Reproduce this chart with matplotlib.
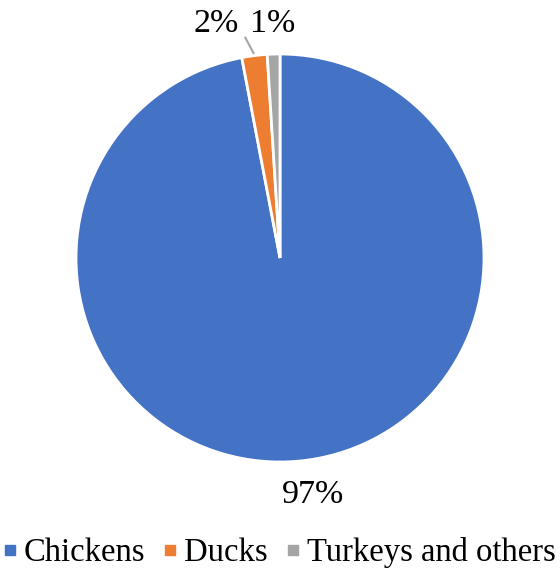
import matplotlib.pyplot as plt
from matplotlib.lines import Line2D

labels = ['Chickens', 'Ducks', 'Turkeys and others']
values = [97, 2, 1]
colors = ['#4472C4', '#ED7D31', '#A5A5A5']

plt.rcParams['font.family'] = ['Liberation Serif', 'DejaVu Serif']

fig = plt.figure(figsize=(5.6, 5.7), dpi=100)
ax = fig.add_axes([76 / 560, 108 / 570, 408 / 560, 408 / 570])

wedges, texts, autotexts = ax.pie(values, colors=colors, startangle=90, counterclock=False,
                                  radius=1, autopct='%1.0f%%', pctdistance=1.15,
                                  wedgeprops=dict(edgecolor='white', linewidth=2),
                                  textprops=dict(fontsize=24.5))
ax.set_xlim(-1, 1)
ax.set_ylim(-1, 1)
ax.set_aspect('auto')

# nudge label positions like the original
autotexts[0].set_position((0.16, -1.16))
autotexts[1].set_position((-0.315, 1.15))
autotexts[2].set_position((-0.035, 1.15))
ax.plot([-0.17, -0.13], [1.08, 1.005], color='#A5A5A5', lw=1.5, clip_on=False)

handles = [Line2D([], [], marker='s', linestyle='none', color=c, markersize=7) for c in colors]
fig.legend(handles, labels, loc='lower center', bbox_to_anchor=(0.5, 0.0), ncol=3,
           frameon=False, fontsize=23.5, handletextpad=0.25, columnspacing=0.6,
           handlelength=0.35, borderpad=0.0, borderaxespad=0.05)

fig.savefig('out.png', dpi=100)
